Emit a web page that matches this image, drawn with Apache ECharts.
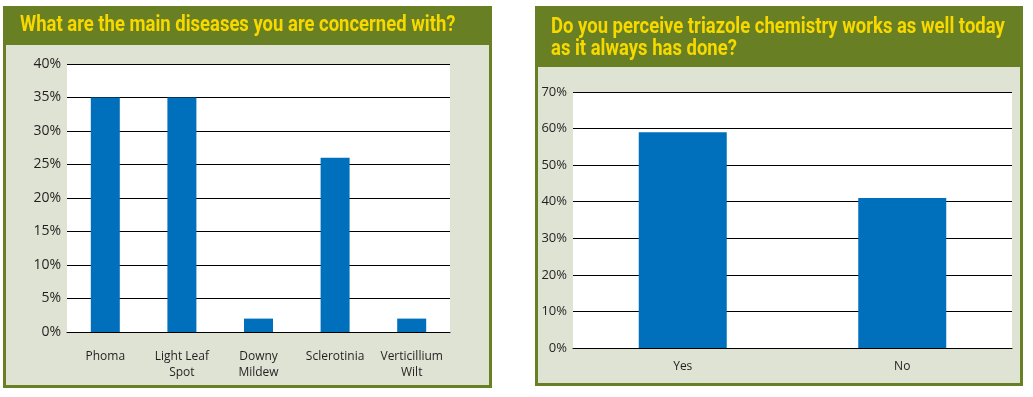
<!DOCTYPE html>
<html>
<head>
<meta charset="utf-8">
<script src="https://cdn.jsdelivr.net/npm/echarts@6/dist/echarts.min.js"></script>
<style>
html, body { margin: 0; padding: 0; background: #fff; }
#main { width: 1033px; height: 397px; }
</style>
</head>
<body>
<div id="main"></div>
<script>
// data
var diseaseCats = ['Phoma', 'Light Leaf\nSpot', 'Downy\nMildew', 'Sclerotinia', 'Verticillium\nWilt'];
var diseaseVals = [35, 35, 2, 26, 2];
var triazoleCats = ['Yes', 'No'];
var triazoleVals = [59, 41];

var green = '#687f23';
var panelBg = '#dfe3d4';
var barBlue = '#0070bd';
var titleFont = '"Liberation Sans Narrow", "Roboto", sans-serif';
var labelFont = '"Open Sans", "Noto Sans", sans-serif';

var chart = echarts.init(document.getElementById('main'));

function panel(x, y, w, h, headH) {
	return [{
		type: 'rect',
		shape: { x: x, y: y, width: w, height: h },
		style: { fill: panelBg, stroke: green, lineWidth: 3 },
		z: -10
	}, {
		type: 'rect',
		shape: { x: x - 1.5, y: y - 1.5, width: w + 3, height: headH },
		style: { fill: green },
		z: -9
	}];
}

// condensed bold heading (no condensed font installed, so squeeze it)
function heading(txt, x, y) {
	return {
		type: 'text',
		x: x, y: y,
		scaleX: 0.84,
		originX: 0, originY: 0,
		style: {
			text: txt,
			fill: '#f7d900',
			font: 'bold 22px ' + titleFont,
			lineHeight: 22,
			textVerticalAlign: 'top'
		},
		z: 5
	};
}

function yAxis(grid, max, step, size) {
	return {
		type: 'value',
		gridIndex: grid,
		min: 0,
		max: max,
		interval: step,
		axisLine: { show: false },
		axisTick: { show: false },
		axisLabel: { formatter: '{value}%', color: '#231f20', fontSize: size, fontFamily: labelFont, margin: 6 },
		splitLine: { lineStyle: { color: '#000', width: 1 } }
	};
}

function xAxis(grid, cats, margin) {
	return {
		type: 'category',
		gridIndex: grid,
		data: cats,
		axisLine: { lineStyle: { color: '#000', width: 1 } },
		axisTick: { show: false },
		axisLabel: { color: '#231f20', fontSize: 12, fontFamily: labelFont, margin: margin, lineHeight: 16, interval: 0 }
	};
}

chart.setOption({
	animation: false,
	graphic: panel(4.5, 7.5, 486, 379, 39)
		.concat(panel(536.5, 7.5, 485, 377, 61))
		.concat([
			heading('What are the main diseases you are concerned with?', 20, 14),
			heading('Do you perceive triazole chemistry works as well today\nas it always has done?', 551, 16)
		]),
	grid: [{
		left: 67, top: 64, width: 383, height: 268,
		show: true, backgroundColor: '#fff', borderWidth: 0
	}, {
		left: 573, top: 92, width: 439, height: 256,
		show: true, backgroundColor: '#fff', borderWidth: 0
	}],
	xAxis: [xAxis(0, diseaseCats, 17), xAxis(1, triazoleCats, 11)],
	yAxis: [yAxis(0, 40, 5, 14), yAxis(1, 70, 10, 13)],
	series: [{
		type: 'bar',
		xAxisIndex: 0, yAxisIndex: 0,
		data: diseaseVals,
		barWidth: 29,
		itemStyle: { color: barBlue }
	}, {
		type: 'bar',
		xAxisIndex: 1, yAxisIndex: 1,
		data: triazoleVals,
		barWidth: 88,
		itemStyle: { color: barBlue }
	}]
});
</script>
</body>
</html>
